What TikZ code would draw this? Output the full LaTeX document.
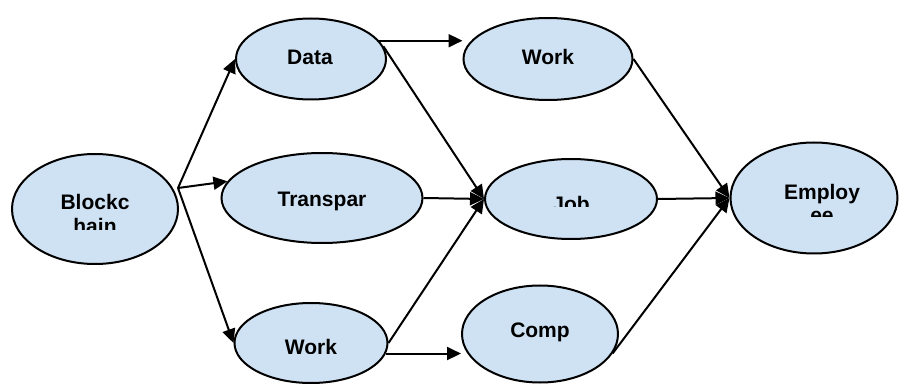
\documentclass[tikz,border=0pt]{standalone}
\usepackage{fontspec}
\setmainfont{Liberation Sans}
\usetikzlibrary{shapes.geometric, arrows.meta}
\definecolor{ellblue}{RGB}{207,226,243}
\tikzstyle{ell}=[ellipse,draw,line width=1pt,fill=ellblue,inner sep=0pt]
\tikzstyle{lbl}=[font=\fontsize{10.5}{12}\selectfont\bfseries,align=center,anchor=base,inner sep=0pt]
\tikzstyle{arr}=[-{Triangle[length=7pt,width=6.5pt]},line width=1pt]

\begin{document}
\begin{tikzpicture}[x=0.5pt,y=-0.5pt]
  \useasboundingbox (0,0) rectangle (901,385);
  % ellipses: name/x/y/width/height
  \foreach \n/\x/\y/\w/\h in {blk/95/209/83/55, data/311/59/75/40.5, trn/322/198/100.5/45,
      wkl/311/343/76.5/40, wkt/548/59/84.5/41, job/571/199/86/40,
      cmp/540/334/78/48.5, emp/814/198/83.5/55.5}
    {\node[ell,minimum width=\w pt,minimum height=\h pt] (\n) at (\x,\y) {};}
  % labels (base = last line), cut off at the bottom like the boxes they came from
  \foreach \n/\t/\x/\y/\c in {blk/{Blockc\\hain}/95/234/230, data/Data/310/65/99,
      trn/Transpar/322/207/240, wkl/Work/311/354/353, wkt/Work/548/65/99,
      job/Job/571/212/207, cmp/Comp/540/337/350, emp/{Employ\\ee}/822/223/217}
    {\begin{scope}
       \clip (\x-90,\y-60) rectangle (\x+90,\c);
       \node[lbl] (\n-l) at (\x,\y) {\t};
     \end{scope}}
  \coordinate (fork) at (178,188);
  \draw[arr] (fork) -- (data.west);
  \draw[arr] (fork) -- (trn.170);
  \draw[arr] (fork) -- (wkl.west);
  \draw[arr] (data.15) -- (data.15 -| wkt.west);
  \draw[arr] (data.10) -- (job.west);
  \draw[arr] (trn.east) -- (job.west);
  \draw[arr] (wkl.east) -- (job.west);
  \draw[arr] (wkl.-8) -- (wkl.-8 -| cmp.west);
  \draw[arr] (wkt.east) -- (emp.west);
  \draw[arr] (job.east) -- (emp.west);
  \draw[arr] (cmp.-15) -- (emp.west);
\end{tikzpicture}
\end{document}
